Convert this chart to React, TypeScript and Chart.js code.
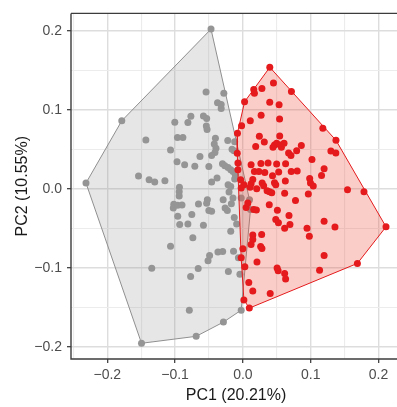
import React, { useEffect, useRef } from "react";
import { Chart, registerables } from "chart.js";

Chart.register(...registerables);

// ---- Data (PC scores) ----
const greyPC1 = [
  -0.047, -0.1786, -0.0543, -0.0281, -0.0374, -0.032, -0.032, -0.0767, -0.0811, -0.1004,
  -0.0582, -0.0534, -0.0539, -0.0528, -0.1431, -0.0965, -0.0885, -0.0405, -0.0223, -0.0121,
  -0.0422, -0.0397, -0.0412, -0.016, -0.0131, -0.1067, -0.0633, -0.0461, -0.0971, -0.0859,
  -0.0709, -0.0502, -0.0301, -0.0266, -0.0218, -0.0179, -0.0146, -0.0112, -0.0121, -0.115,
  -0.0936, -0.0461, -0.0381, -0.0218, -0.2314, -0.1539, -0.1383, -0.13, -0.0939, -0.0939,
  -0.1019, -0.1026, -0.0961, -0.0898, -0.0655, -0.0524, -0.0534, -0.0502, -0.0461, -0.0291,
  -0.0262, -0.0229, -0.0204, -0.0179, -0.0146, -0.017, -0.0961, -0.0753, -0.0932, -0.0811,
  -0.0582, -0.0127, -0.0092, -0.0179, -0.0738, -0.1067, -0.0491, -0.0514, -0.0368, -0.0298,
  -0.0138, -0.0066, -0.1344, -0.0659, -0.0771, -0.0214, -0.0044, -0.079, -0.0025, -0.0287,
  -0.0689, -0.1495, 0.0098, 0.0112, -0.0025,
];
const greyPC2 = [
  0.202, 0.086, 0.1225, 0.1209, 0.1087, 0.1067, 0.1016, 0.0916, 0.0838, 0.084,
  0.0919, 0.089, 0.0793, 0.0749, 0.0617, 0.0649, 0.0649, 0.0639, 0.0611, 0.0596,
  0.0567, 0.0513, 0.0457, 0.05, 0.0482, 0.0489, 0.0409, 0.0422, 0.034, 0.0302,
  0.0283, 0.0281, 0.0315, 0.029, 0.0268, 0.0239, 0.0218, 0.0176, 0.0122, 0.0101,
  0.0019, 0.0084, 0.0135, 0.005, 0.0072, 0.016, 0.0113, 0.0084, -0.0038, -0.0092,
  -0.0195, -0.0243, -0.021, -0.0205, -0.0193, -0.0139, -0.0183, -0.0277, -0.0286, -0.0139,
  -0.0243, -0.0277, -0.0042, 0.0029, -0.0117, -0.0189, -0.0349, -0.0327, -0.0453, -0.0445,
  -0.0463, -0.0365, -0.0445, -0.0538, -0.0621, -0.0727, -0.0844, -0.0913, -0.08, -0.0793,
  -0.079, -0.0875, -0.1008, -0.1011, -0.1111, -0.1049, -0.1083, -0.1537, -0.1537, -0.1688,
  -0.1868, -0.1956, -0.0139, -0.0264, -0.0117,
];

const redPC1 = [
  0.0397, 0.0451, 0.016, 0.017, 0.0281, 0.0716, 0.0025, 0.0396, 0.0534, 0.0269,
  0.0541, 0.0109, -0.0019, 0.1179, 0.0243, 0.0543, -0.008, 0.1373, 0.0316, 0.0189,
  0.0466, 0.0498, 0.0553, 0.0607, 0.0444, 0.0568, 0.0862, 0.0793, 0.0674, 0.0709,
  0.1298, 0.1371, 0.1019, 0.1198, 0.116, 0.0121, 0.0266, 0.0371, 0.0498, 0.063,
  0.017, 0.0236, 0.0323, 0.0528, 0.0713, 0.0801, 0.0985, 0.0997, 0.0626, 0.0437,
  0.0146, 0.0121, 0.0284, 0.0306, 0.0466, 0.0485, 0.0015, 0.0106, 0.1038, -0.0073,
  -0.0073, -0.0033, -0.0025, 0.0204, 0.0357, 0.0393, 0.0426, 0.0616, 0.0965, 0.1543,
  0.1786, 0.0776, 0.0389, 0.0048, 0.0073, 0.016, 0.0199, 0.0509, 0.068, 0.0485,
  0.0524, 0.0616, 0.0694, 0.0946, 0.098, 0.1198, 0.1358, 0.2111, 0.0146, 0.0146,
  0.0121, 0.0277, 0.0262, 0.0281, 0.0, -0.0025, 0.0208, 0.0505, 0.052, 0.0616,
  0.063, 0.1198, 0.1131, 0.1689, 0.0029, 0.0087, 0.0146, 0.0403, 0.0015, 0.0095,
  -0.0083,
];
const redPC2 = [
  0.1537, 0.1339, 0.1257, 0.1209, 0.1268, 0.123, 0.11, 0.1093, 0.1062, 0.0929,
  0.0882, 0.086, 0.0797, 0.0764, 0.0664, 0.0668, 0.0702, 0.0613, 0.0592, 0.0533,
  0.0554, 0.0576, 0.0554, 0.0576, 0.0525, 0.0525, 0.0548, 0.0481, 0.0453, 0.0422,
  0.0476, 0.0453, 0.0369, 0.0252, 0.0168, 0.0302, 0.0319, 0.0327, 0.0312, 0.0315,
  0.0217, 0.0217, 0.0205, 0.0212, 0.0218, 0.0223, 0.0128, 0.0072, 0.0097, 0.0164,
  0.0117, 0.0063, 0.0072, 0.0038, 0.0076, 0.005, 0.005, 0.0019, 0.0034, 0.0327,
  0.0239, 0.0113, 0.0009, 0.0, -0.0025, -0.0038, -0.005, -0.0057, -0.0067, -0.0013,
  -0.0038, -0.0149, -0.0204, -0.0236, -0.018, -0.0264, -0.0268, -0.0271, -0.0338, -0.039,
  -0.0432, -0.05, -0.0453, -0.05, -0.0601, -0.0412, -0.0485, -0.0482, -0.0586, -0.0642,
  -0.0705, -0.0579, -0.073, -0.0756, -0.0759, -0.0873, -0.0926, -0.1004, -0.1039, -0.1074,
  -0.1142, -0.0844, -0.1033, -0.0945, -0.0989, -0.1188, -0.1293, -0.1326, -0.1407, -0.1511,
  0.045,
];

const xGridValues = [-0.25, -0.2, -0.15, -0.1, -0.05, 0, 0.05, 0.1, 0.15, 0.2];
const yGridValues = [-0.2, -0.15, -0.1, -0.05, 0, 0.05, 0.1, 0.15, 0.2];
const majorTicks = [-0.2, -0.1, 0, 0.1, 0.2];
const majorTickLabels = ["\u22120.2", "\u22120.1", "0.0", "0.1", "0.2"];

const xTitle = "PC1 (20.21%)";
const yTitle = "PC2 (10.55%)";

const GREY = "#959595";
const RED = "#E41A1C";

type P = { x: number; y: number };

function toPoints(xs: number[], ys: number[]): P[] {
  return xs.map((x, i) => ({ x, y: ys[i] }));
}

function convexHull(pts: P[]): P[] {
  const p = [...pts].sort((a, b) => (a.x === b.x ? a.y - b.y : a.x - b.x));
  const cross = (o: P, a: P, b: P) => (a.x - o.x) * (b.y - o.y) - (a.y - o.y) * (b.x - o.x);
  const lower: P[] = [];
  for (const q of p) {
    while (lower.length >= 2 && cross(lower[lower.length - 2], lower[lower.length - 1], q) <= 0) lower.pop();
    lower.push(q);
  }
  const upper: P[] = [];
  for (let i = p.length - 1; i >= 0; i--) {
    const q = p[i];
    while (upper.length >= 2 && cross(upper[upper.length - 2], upper[upper.length - 1], q) <= 0) upper.pop();
    upper.push(q);
  }
  upper.pop();
  lower.pop();
  const hull = lower.concat(upper);
  return hull.concat([hull[0]]);
}

const majorIndex = (v: number) => majorTicks.findIndex((m) => Math.abs(m - v) < 1e-6);

const borderPlugin = {
  id: "panelBorder",
  afterDraw(chart: any) {
    const { ctx, chartArea } = chart;
    const { left, right, top, bottom } = chartArea;
    ctx.save();
    ctx.strokeStyle = "#3c3c3c";
    ctx.lineWidth = 1.4;
    ctx.beginPath();
    ctx.moveTo(left, top);
    ctx.lineTo(right, top);
    ctx.moveTo(left, top);
    ctx.lineTo(left, bottom);
    ctx.lineTo(right, bottom);
    ctx.stroke();
    ctx.restore();
  },
};

export default function App() {
  const ref = useRef<HTMLCanvasElement | null>(null);

  useEffect(() => {
    if (!ref.current) return;
    Chart.defaults.font.family = "'Liberation Sans', Arial, Helvetica, sans-serif";
    const grey = toPoints(greyPC1, greyPC2);
    const red = toPoints(redPC1, redPC2);
    const greyHull = convexHull(grey);
    const redHull = convexHull(red);

    const gridColor = (ctx: any) => {
      const v = ctx.tick ? ctx.tick.value : 0;
      return majorIndex(v) >= 0 ? "#dddddd" : "#ececec";
    };
    const gridWidth = (ctx: any) => {
      const v = ctx.tick ? ctx.tick.value : 0;
      return majorIndex(v) >= 0 ? 1.4 : 1.1;
    };
    const tickColor = (ctx: any) => {
      const v = ctx.tick ? ctx.tick.value : 0;
      return majorIndex(v) >= 0 ? "#333333" : "rgba(0,0,0,0)";
    };
    const label = (v: any) => {
      const i = majorIndex(Number(v));
      return i >= 0 ? majorTickLabels[i] : "";
    };

    const chart = new Chart(ref.current, {
      type: "scatter",
      data: {
        datasets: [
          {
            label: "red",
            data: red,
            backgroundColor: RED,
            borderWidth: 0,
            pointRadius: 3.5,
            order: 0,
          },
          {
            label: "redHull",
            data: redHull,
            showLine: true,
            borderColor: RED,
            borderWidth: 1,
            backgroundColor: "rgba(236,70,50,0.27)",
            fill: "shape",
            pointRadius: 0,
            tension: 0,
            order: 1,
          } as any,
          {
            label: "grey",
            data: grey,
            backgroundColor: GREY,
            borderWidth: 0,
            pointRadius: 3.5,
            order: 2,
          },
          {
            label: "greyHull",
            data: greyHull,
            showLine: true,
            borderColor: "#8f8f8f",
            borderWidth: 1,
            backgroundColor: "rgba(140,140,140,0.22)",
            fill: "shape",
            pointRadius: 0,
            tension: 0,
            order: 3,
          } as any,
        ],
      },
      options: {
        responsive: false,
        animation: false,
        events: [],
        layout: { padding: { top: 13, right: 0, left: 0, bottom: 0 } },
        plugins: { legend: { display: false }, tooltip: { enabled: false } },
        scales: {
          x: {
            type: "linear",
            min: -0.2535,
            max: 0.2332,
            afterBuildTicks: (s: any) => {
              s.ticks = xGridValues.map((v) => ({ value: v }));
            },
            afterFit: (s: any) => {
              s.height = 48;
            },
            border: { display: false },
            grid: {
              color: gridColor,
              lineWidth: gridWidth,
              drawTicks: true,
              tickLength: 4,
              tickColor: tickColor,
              tickWidth: 1.2,
            },
            ticks: {
              callback: label,
              color: "#4d4d4d",
              font: { size: 14 },
              padding: 4,
              maxRotation: 0,
              autoSkip: false,
            },
            title: {
              display: true,
              text: xTitle,
              color: "#1a1a1a",
              font: { size: 16 },
              padding: { top: 0, bottom: 1.5 },
            },
          },
          y: {
            type: "linear",
            min: -0.2155,
            max: 0.2219,
            afterBuildTicks: (s: any) => {
              s.ticks = yGridValues.map((v) => ({ value: v }));
            },
            afterFit: (s: any) => {
              s.width = 71;
            },
            border: { display: false },
            grid: {
              color: gridColor,
              lineWidth: gridWidth,
              drawTicks: true,
              tickLength: 4,
              tickColor: tickColor,
              tickWidth: 1.2,
            },
            ticks: {
              callback: label,
              color: "#4d4d4d",
              font: { size: 14 },
              padding: 5,
              autoSkip: false,
            },
            title: {
              display: true,
              text: yTitle,
              color: "#1a1a1a",
              font: { size: 16 },
              padding: { top: 13, bottom: 0 },
            },
          },
        },
      },
      plugins: [borderPlugin],
    });
    return () => chart.destroy();
  }, []);

  return (
    <div style={{ position: "fixed", left: 0, top: 0, width: 397, height: 407, overflow: "hidden", background: "#fff" }}>
      <canvas ref={ref} width={405} height={407} style={{ display: "block", width: 405, height: 407 }} />
    </div>
  );
}
